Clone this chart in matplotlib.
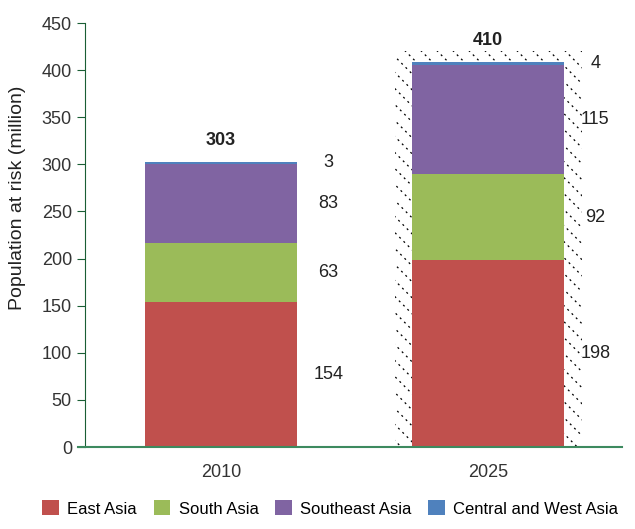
import matplotlib.pyplot as plt
import numpy as np
from matplotlib.patches import Rectangle

# Данни
years = ["2010", "2025"]
regions = ["East Asia", "South Asia", "Southeast Asia", "Central and West Asia"]
values = {
    "East Asia": [154, 198],
    "South Asia": [63, 92],
    "Southeast Asia": [83, 115],
    "Central and West Asia": [3, 4],
}
totals = [303, 410]
colors = ["#C0504D", "#9BBB59", "#8064A2", "#4F81BD"]

plt.rcParams["font.family"] = ["Liberation Sans", "DejaVu Sans"]

fig = plt.figure(figsize=(6.35, 5.29), dpi=100)
ax = fig.add_axes([0.134, 0.155, 0.846, 0.8015])

x = np.arange(len(years))
width = 0.57

ax.set_xlim(-0.509, 1.502)
ax.set_ylim(0, 450)

# Щриховка зад прогнозната колона (2025), линии под 45 градуса в пиксели
box = Rectangle((0.65, 0), 0.70, 420, facecolor="none", edgecolor="none")
ax.add_patch(box)
fig.canvas.draw()
px_per_x = ax.transData.transform((1, 0))[0] - ax.transData.transform((0, 0))[0]
px_per_y = ax.transData.transform((0, 1))[1] - ax.transData.transform((0, 0))[1]
span_x = 440 * px_per_y / px_per_x
step = 16 / px_per_x
for x0 in np.arange(0.65 - span_x, 1.36, step):
    (ln,) = ax.plot([x0, x0 + span_x], [430, -10], color="black",
                    lw=0.9, ls=(0, (1.6, 3.2)), zorder=1)
    ln.set_clip_path(box)

bottom = np.zeros(len(years))
for region, color in zip(regions, colors):
    vals = np.array(values[region], dtype=float)
    ax.bar(x, vals, width, bottom=bottom, color=color, label=region, zorder=2)
    for xi, b, v in zip(x, bottom, vals):
        ax.text(xi + width / 2 + 0.116, b + v / 2, f"{int(v)}",
                ha="center", va="center", fontsize=13, color="#222222")
    bottom += vals

for xi, top, t in zip(x, bottom, totals):
    ax.annotate(f"{t}", (xi, top), xytext=(0, 15), textcoords="offset points",
                ha="center", va="center", fontsize=13, fontweight="bold",
                color="#222222")

ax.set_yticks(np.arange(0, 451, 50))
ax.set_xticks(x)
ax.set_xticklabels(years)
ax.set_ylabel("Population at risk (million)", fontsize=14, color="#222222")
ax.yaxis.set_label_coords(-0.11, 0.587)

for s in ["top", "right"]:
    ax.spines[s].set_visible(False)
ax.spines["left"].set_color("#1A5E35")
ax.spines["bottom"].set_color("#3D8A5F")
ax.spines["bottom"].set_linewidth(1.5)
ax.spines["bottom"].set_bounds(-0.535, 1.502)
ax.tick_params(axis="y", colors="#1A5E35", labelcolor="#333333",
               length=6, labelsize=13)
ax.tick_params(axis="x", length=0, labelcolor="#333333", labelsize=13, pad=12)

fig.legend(loc="lower center", bbox_to_anchor=(0.52, -0.005), ncol=4,
           frameon=False, handlelength=1.0, handleheight=1.0,
           handletextpad=0.5, columnspacing=1.0,
           prop={"family": ["Liberation Sans Narrow", "Liberation Sans"], "size": 12})

fig.savefig("out.png", dpi=100)
